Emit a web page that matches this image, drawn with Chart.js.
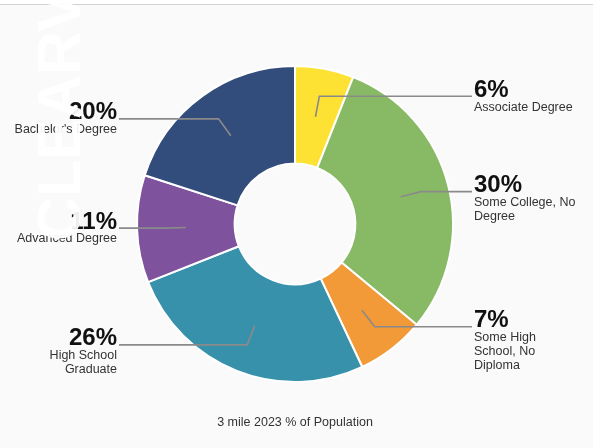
<!DOCTYPE html>
<html>
<head>
<meta charset="utf-8">
<script src="https://cdn.jsdelivr.net/npm/chart.js@4.4.0/dist/chart.umd.min.js"></script>
<style>
  html, body { margin: 0; padding: 0; background: #ffffff; }
  #wrap { position: relative; width: 598px; height: 448px; overflow: hidden; }
  #panel { position: absolute; left: 0; top: 4px; width: 593px; height: 444px;
           background: #fafafa; border-top: 1px solid #d2d2d2; box-sizing: border-box; }
  #c { position: absolute; left: 0; top: 0; }
</style>
</head>
<body>
<div id="wrap">
  <div id="panel"></div>
  <canvas id="c" width="598" height="448"></canvas>
</div>
<script>
// ---- data ----
const categories = [
  ["Associate Degree"],
  ["Some College, No", "Degree"],
  ["Some High", "School, No", "Diploma"],
  ["High School", "Graduate"],
  ["Advanced Degree"],
  ["Bachelor's Degree"]
];
const values = [6, 30, 7, 26, 11, 20];
const colors = ["#fde233", "#88ba65", "#f29a37", "#3891ab", "#7e529c", "#324d7b"];
const chartTitle = "3 mile 2023 % of Population";
const watermark = "CLEARVIEW";

const FONT = "'Liberation Sans', Arial, Helvetica, sans-serif";

const calloutPlugin = {
  id: 'callouts',
  afterDatasetsDraw(chart) {
    const ctx = chart.ctx;
    const meta = chart.getDatasetMeta(0);
    const data = chart.data.datasets[0].data;
    const total = data.reduce((a, b) => a + b, 0);
    ctx.save();
    meta.data.forEach((arc, i) => {
      const p = arc.getProps(['x', 'y', 'startAngle', 'endAngle', 'innerRadius', 'outerRadius'], true);
      const mid = (p.startAngle + p.endAngle) / 2;
      const r1 = (p.innerRadius + p.outerRadius) / 2;
      const r2 = p.outerRadius - 28;
      const x1 = p.x + Math.cos(mid) * r1, y1 = p.y + Math.sin(mid) * r1;
      const x2 = p.x + Math.cos(mid) * r2, y2 = p.y + Math.sin(mid) * r2;
      const right = Math.cos(mid) >= 0;
      const x3 = right ? p.x + 177 : p.x - 176;
      ctx.beginPath();
      ctx.moveTo(x1, y1);
      ctx.lineTo(x2, y2);
      ctx.lineTo(x3, y2);
      ctx.strokeStyle = '#8a8a8a';
      ctx.lineWidth = 1.6;
      ctx.stroke();

      const tx = right ? x3 + 2 : x3 - 2;
      ctx.textAlign = right ? 'left' : 'right';
      ctx.textBaseline = 'alphabetic';
      ctx.fillStyle = '#111111';
      ctx.font = 'bold 24px ' + FONT;
      ctx.fillText(Math.round(data[i] / total * 100) + '%', tx, y2 + 0.5);

      ctx.textBaseline = 'middle';
      ctx.fillStyle = '#333333';
      ctx.font = '12.5px ' + FONT;
      const lines = chart.data.labels[i];
      lines.forEach((ln, k) => ctx.fillText(ln, tx, y2 + 10.8 + k * 14));
    });
    ctx.restore();
  },
  afterDraw(chart) {
    const ctx = chart.ctx;
    ctx.save();
    ctx.translate(80, 241);
    ctx.rotate(-Math.PI / 2);
    ctx.font = 'bold 61px ' + FONT;
    ctx.textAlign = 'left';
    ctx.textBaseline = 'alphabetic';
    ctx.fillStyle = 'rgba(255,255,255,0.93)';
    ctx.fillText(watermark, 0, 0);
    ctx.restore();
  }
};

new Chart(document.getElementById('c'), {
  type: 'doughnut',
  data: {
    labels: categories,
    datasets: [{
      data: values,
      backgroundColor: colors,
      borderColor: '#ffffff',
      borderWidth: 2
    }]
  },
  options: {
    responsive: false,
    animation: false,
    events: [],
    radius: 158,
    cutout: 60,
    layout: { padding: { top: 66, left: 0, right: 8, bottom: 0 } },
    plugins: {
      legend: { display: false },
      tooltip: { enabled: false },
      title: {
        display: true,
        text: chartTitle,
        position: 'bottom',
        color: '#333333',
        font: { family: FONT, size: 12.5, weight: 'normal', lineHeight: 1.2 },
        padding: { top: 33, bottom: 18 }
      }
    }
  },
  plugins: [calloutPlugin]
});
</script>
</body>
</html>
